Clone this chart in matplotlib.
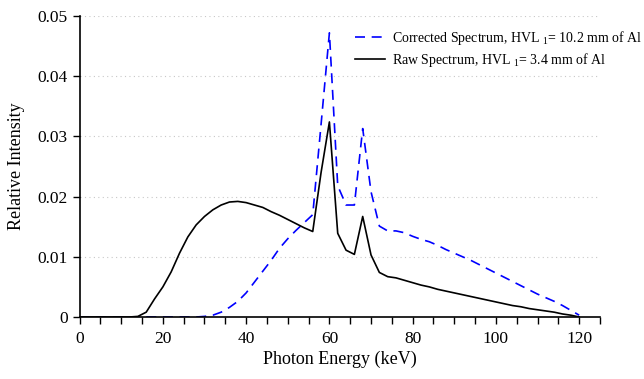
"""
plot.py — raw vs. HVL-corrected tube spectrum (relative intensity vs photon energy).

    Run it with:  python plot.py
"""
from __future__ import annotations

import matplotlib
matplotlib.use("Agg")
import matplotlib.pyplot as plt

# energy grid, 2 keV steps (keV)
energy = list(range(0, 122, 2))

raw = [0, 0, 0, 0, 0, 0, 0, 0.0001, 0.0008, 0.0030,             # 0-18
       0.0050, 0.0075, 0.0106, 0.0133, 0.0153, 0.0167, 0.0178,   # 20-32
       0.0186, 0.0191, 0.0192, 0.0190, 0.0186, 0.0182, 0.0175,   # 34-46
       0.0169, 0.0162, 0.0155, 0.0148, 0.0142, 0.0240, 0.0324,   # 48-60
       0.0139, 0.0111, 0.0104, 0.0167, 0.0103, 0.0074, 0.0067,   # 62-74
       0.0065, 0.0061, 0.0057, 0.0053, 0.0050, 0.0046, 0.0043,   # 76-88
       0.0040, 0.0037, 0.0034, 0.0031, 0.0028, 0.0025, 0.0022,   # 90-102
       0.0019, 0.0017, 0.0014, 0.0012, 0.0010, 0.0008, 0.0005,   # 104-116
       0.0003, 0.0]                                              # 118-120

corrected = [0, 0, 0, 0, 0, 0, 0, 0, 0, 0,                      # 0-18
             0, 0, 0, 0, 0, 0.0001, 0.0003,                      # 20-32
             0.0008, 0.0016, 0.0026, 0.0040, 0.0058, 0.0076, 0.0094,  # 34-46
             0.0114, 0.0130, 0.0144, 0.0157, 0.0170, 0.0320, 0.0472,  # 48-60
             0.0218, 0.0186, 0.0186, 0.0313, 0.0208, 0.0151, 0.0143,  # 62-74
             0.0143, 0.0140, 0.0134, 0.0129, 0.0125, 0.0119, 0.0112,  # 76-88
             0.0106, 0.0100, 0.0094, 0.0087, 0.0080, 0.0073, 0.0066,  # 90-102
             0.0059, 0.0052, 0.0045, 0.0038, 0.0032, 0.0026, 0.0019,  # 104-116
             0.0011, 0.0003]                                          # 118-120

x_ticks = [0, 20, 40, 60, 80, 100, 120]
y_ticks = [0, 0.01, 0.02, 0.03, 0.04, 0.05]
y_tick_labels = ["0", "0.01", "0.02", "0.03", "0.04", "0.05"]

label_corr = r"Corrected Spectrum, HVL $_{1}$= 10.2 mm of Al"
label_raw = r"Raw Spectrum, HVL $_{1}$= 3.4 mm of Al"


def main() -> None:
    plt.rcParams["font.family"] = ["Liberation Serif", "DejaVu Serif"]
    plt.rcParams["mathtext.fontset"] = "custom"
    plt.rcParams["mathtext.rm"] = "Liberation Serif"

    fig = plt.figure(figsize=(6.44, 3.79), dpi=100)
    ax = fig.add_axes([0.1236, 0.1636, 0.8081, 0.7942])

    ax.plot(energy, corrected, color="#0000ff", lw=1.2, dashes=(6, 4),
            label=label_corr)
    ax.plot(energy, raw, color="black", lw=1.2, label=label_raw)

    ax.set_xlim(0, 125)
    ax.set_ylim(0, 0.05)
    ax.set_xticks(x_ticks)
    ax.set_xticks(range(0, 126, 5), minor=True)
    ax.set_yticks(y_ticks)
    ax.set_yticklabels(y_tick_labels)
    ax.tick_params(axis="both", which="both", direction="out", length=5,
                   width=1, labelsize=12.5, color="black")
    ax.tick_params(axis="x", pad=5)

    for side in ("top", "right"):
        ax.spines[side].set_visible(False)
    for side in ("left", "bottom"):
        ax.spines[side].set_linewidth(1.2)

    ax.yaxis.grid(True, linestyle=(0, (1, 3)), color="#c8c8c8", lw=0.8)
    ax.set_axisbelow(True)

    ax.set_xlabel("Photon Energy (keV)", fontsize=13, labelpad=3)
    ax.set_ylabel("Relative Intensity", fontsize=13, labelpad=9)

    ax.legend(loc="upper left", bbox_to_anchor=(0.518, 0.975), frameon=False,
              fontsize=10, handlelength=2.2, handletextpad=0.45,
              labelspacing=0.3, borderaxespad=0)

    fig.savefig("out.png", dpi=100)
    plt.close(fig)


if __name__ == "__main__":
    main()
